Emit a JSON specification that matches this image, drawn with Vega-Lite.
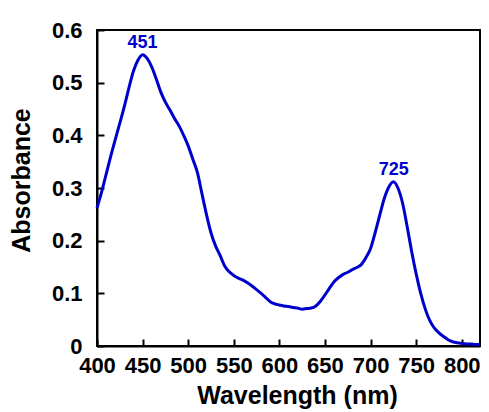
{
  "$schema": "https://vega.github.io/schema/vega-lite/v6.json",
  "width": 383,
  "height": 316,
  "autosize": "none",
  "padding": {"left": 97, "top": 30, "right": 9, "bottom": 66},
  "config": {
    "view": {"stroke": "black", "strokeWidth": 2},
    "axis": {"grid": false}
  },
  "data": {
    "values": [
      {"wl": 400, "abs": 0.262}, {"wl": 405, "abs": 0.292}, {"wl": 410, "abs": 0.326},
      {"wl": 415, "abs": 0.36}, {"wl": 420, "abs": 0.392}, {"wl": 425, "abs": 0.423},
      {"wl": 430, "abs": 0.455}, {"wl": 435, "abs": 0.49}, {"wl": 440, "abs": 0.522},
      {"wl": 445, "abs": 0.543}, {"wl": 450, "abs": 0.553}, {"wl": 455, "abs": 0.546},
      {"wl": 460, "abs": 0.53}, {"wl": 465, "abs": 0.507}, {"wl": 470, "abs": 0.482},
      {"wl": 475, "abs": 0.463}, {"wl": 480, "abs": 0.448}, {"wl": 485, "abs": 0.432},
      {"wl": 490, "abs": 0.418}, {"wl": 495, "abs": 0.4}, {"wl": 500, "abs": 0.38},
      {"wl": 505, "abs": 0.355}, {"wl": 510, "abs": 0.33}, {"wl": 515, "abs": 0.29},
      {"wl": 520, "abs": 0.25}, {"wl": 525, "abs": 0.215}, {"wl": 530, "abs": 0.19},
      {"wl": 535, "abs": 0.172}, {"wl": 540, "abs": 0.152}, {"wl": 545, "abs": 0.141},
      {"wl": 550, "abs": 0.134}, {"wl": 555, "abs": 0.129}, {"wl": 560, "abs": 0.125},
      {"wl": 565, "abs": 0.12}, {"wl": 570, "abs": 0.114}, {"wl": 575, "abs": 0.107},
      {"wl": 580, "abs": 0.1}, {"wl": 585, "abs": 0.092}, {"wl": 590, "abs": 0.084},
      {"wl": 595, "abs": 0.08}, {"wl": 600, "abs": 0.078}, {"wl": 605, "abs": 0.076},
      {"wl": 610, "abs": 0.075}, {"wl": 615, "abs": 0.073}, {"wl": 620, "abs": 0.072},
      {"wl": 625, "abs": 0.07}, {"wl": 630, "abs": 0.071}, {"wl": 635, "abs": 0.072},
      {"wl": 640, "abs": 0.076}, {"wl": 645, "abs": 0.085}, {"wl": 650, "abs": 0.097},
      {"wl": 655, "abs": 0.11}, {"wl": 660, "abs": 0.122}, {"wl": 665, "abs": 0.13},
      {"wl": 670, "abs": 0.136}, {"wl": 675, "abs": 0.14}, {"wl": 680, "abs": 0.145},
      {"wl": 685, "abs": 0.149}, {"wl": 690, "abs": 0.155}, {"wl": 695, "abs": 0.168},
      {"wl": 700, "abs": 0.185}, {"wl": 705, "abs": 0.215}, {"wl": 710, "abs": 0.248},
      {"wl": 715, "abs": 0.28}, {"wl": 720, "abs": 0.302}, {"wl": 725, "abs": 0.312},
      {"wl": 730, "abs": 0.3}, {"wl": 735, "abs": 0.272}, {"wl": 740, "abs": 0.228},
      {"wl": 745, "abs": 0.18}, {"wl": 750, "abs": 0.137}, {"wl": 755, "abs": 0.1},
      {"wl": 760, "abs": 0.07}, {"wl": 765, "abs": 0.048}, {"wl": 770, "abs": 0.034},
      {"wl": 775, "abs": 0.025}, {"wl": 780, "abs": 0.018}, {"wl": 785, "abs": 0.012},
      {"wl": 790, "abs": 0.008}, {"wl": 795, "abs": 0.006}, {"wl": 800, "abs": 0.005},
      {"wl": 805, "abs": 0.004}, {"wl": 810, "abs": 0.004}, {"wl": 815, "abs": 0.003},
      {"wl": 820, "abs": 0.003}
    ]
  },
  "encoding": {
    "x": {
      "field": "wl", "type": "quantitative",
      "scale": {"domain": [400, 820], "nice": false, "zero": false},
      "axis": {"title": "Wavelength (nm)", "tickCount": 9, "tickSize": -7, "tickColor": "black", "tickWidth": 2,
        "labelFont": "Liberation Sans", "labelFontWeight": "bold", "labelFontSize": 22, "labelColor": "black", "labelOverlap": false, "labelFlush": false,
        "titleFont": "Liberation Sans", "titleFontWeight": "bold", "titleFontSize": 25, "titleColor": "black",
        "domainColor": "black", "domainWidth": 2,
        "labelPadding": 16, "titlePadding": 7, "titleX": 200}
    },
    "y": {
      "field": "abs", "type": "quantitative",
      "scale": {"domain": [0, 0.6], "nice": false},
      "axis": {"title": "Absorbance", "tickCount": 6, "format": "~g", "tickSize": -7, "tickColor": "black", "tickWidth": 2,
        "labelFont": "Liberation Sans", "labelFontWeight": "bold", "labelFontSize": 22, "labelColor": "black", "labelOverlap": false, "labelFlush": false,
        "titleFont": "Liberation Sans", "titleFontWeight": "bold", "titleFontSize": 25, "titleColor": "black",
        "domainColor": "black", "domainWidth": 2,
        "labelPadding": 22, "titlePadding": 17, "titleY": 150}
    }
  },
  "layer": [
    {
      "mark": {"type": "line", "color": "#0000cc", "strokeWidth": 3, "interpolate": "monotone"}
    },
    {
      "data": {"values": [{"wl": 450, "abs": 0.575, "label": "451"}, {"wl": 725.5, "abs": 0.335, "label": "725"}]},
      "mark": {"type": "text", "color": "#0000cc", "fontWeight": "bold", "fontSize": 18, "font": "Liberation Sans", "baseline": "middle", "align": "center"},
      "encoding": {
        "text": {"field": "label"}
      }
    }
  ]
}
